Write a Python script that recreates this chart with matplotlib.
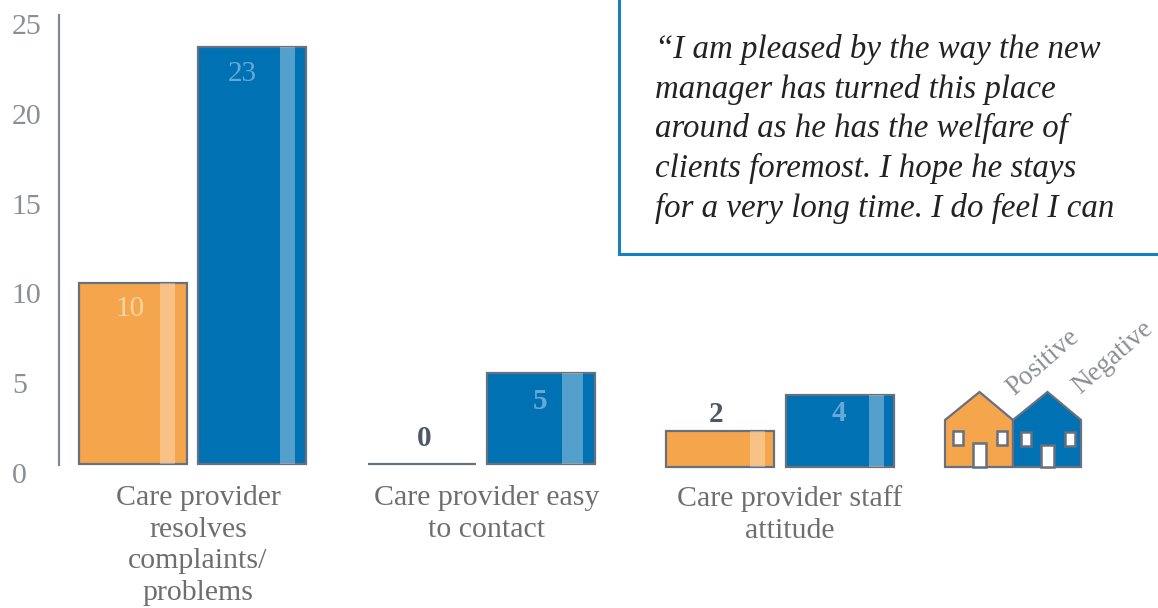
from matplotlib import pyplot as plt
from matplotlib.patches import Polygon, Rectangle

W, H = 1158, 608

categories = ["Care provider\nresolves\ncomplaints/\nproblems",
              "Care provider easy\nto contact",
              "Care provider staff\nattitude"]
positive = [10, 0, 2]
negative = [23, 5, 4]
y_ticks = [0, 5, 10, 15, 20, 25]
quote = ("\u201cI am pleased by the way the new\n"
         "manager has turned this place\n"
         "around as he has the welfare of\n"
         "clients foremost. I hope he stays\n"
         "for a very long time. I do feel I can")

ORANGE = "#F5A54B"
BLUE = "#0072B3"
EDGE = "#66707F"
GREY = "#6E6E6E"
FONT = "Liberation Serif"

group_x = [132.5, 421.5, 720]
group_gap = 119.5
bar_w = 108
base_shift = [0, 0, -0.17]
stripe_w = [15, 21, 15]
stripe_shift = [-19, -22.5, -17]
pos_offset = [-26, 26, 16]
neg_offset = [-27, -28, -19]
pos_dx = [-2, 2.5, -4]
neg_dx = [-10, -1, -1]
label_x = [198, 487, 790]


def px_axes(left, top, right, bottom):
    return plt.gcf().add_axes([left / W, 1 - bottom / H, (right - left) / W, (bottom - top) / H])


fig = plt.figure(figsize=(W / 100, H / 100), dpi=100)

# bars: x in pixels, y in data units
ax = px_axes(0, 0, W, H)
ax.set_xlim(0, W)
ax.set_ylim(-144 / 18.13, 464 / 18.13)
ax.axis("off")

for i in range(len(categories)):
    x1 = group_x[i]
    x2 = x1 + group_gap
    b = base_shift[i]
    ax.bar(x1, positive[i], bar_w, bottom=b, color=ORANGE, edgecolor=EDGE, linewidth=1.6)
    ax.bar(x2, negative[i], bar_w, bottom=b, color=BLUE, edgecolor=EDGE, linewidth=1.6)
    for x, v in ((x1, positive[i]), (x2, negative[i])):
        ax.bar(x + bar_w / 2 + stripe_shift[i], v, stripe_w[i], bottom=b, color="white",
               alpha=0.33, linewidth=0)

    pos_color = "#FBD5A6" if positive[i] >= 10 else "#4F5866"
    ax.annotate(str(positive[i]), (x1 + pos_dx[i], positive[i] + b), xytext=(0, pos_offset[i] * 0.72),
                textcoords="offset points", ha="center", va="center",
                fontsize=21, family=FONT, color=pos_color,
                fontweight="normal" if positive[i] >= 10 else "bold")
    ax.annotate(str(negative[i]), (x2 + neg_dx[i], negative[i] + b), xytext=(0, neg_offset[i] * 0.72),
                textcoords="offset points", ha="center", va="center",
                fontsize=21, family=FONT, color="#66A9D6",
                fontweight="normal" if negative[i] >= 10 else "bold")

# y axis, its labels sit on a slightly different scale than the bars
ax_t = px_axes(59, 15, 60, 473)
ax_t.set_ylim(0, 25.5)
ax_t.set_xticks([])
ax_t.set_yticks(y_ticks)
ax_t.tick_params(axis="y", length=0, pad=34, labelsize=21.5, labelcolor="#8A8F96")
for lab in ax_t.get_yticklabels():
    lab.set_family(FONT)
    lab.set_ha("left")
for s in ("top", "right", "bottom"):
    ax_t.spines[s].set_visible(False)
ax_t.spines["left"].set_color("#7F8A96")
ax_t.spines["left"].set_linewidth(1.6)
ax_t.spines["left"].set_bounds(0.45, 25.5)
ax_t.patch.set_alpha(0)

# everything else in pixel coordinates
ov = px_axes(0, 0, W, H)
ov.set_xlim(0, W)
ov.set_ylim(H, 0)
ov.axis("off")

for x, label in zip(label_x, categories):
    ov.text(x, 485, label, ha="center", va="top", fontsize=21.5, family=FONT,
            color=GREY, linespacing=1.285)

ov.plot([619, 619, W], [0, 254, 254], color="#1A80BD", lw=2.2, solid_joinstyle="miter")
ov.text(655, 34, quote, ha="left", va="top", fontsize=23.7, family=FONT, style="italic",
        color="#222222", linespacing=1.36)


def house(x0, fill, win_top, door_top, win_l, win_r, door):
    x1 = x0 + 68
    ov.add_patch(Polygon([(x0, 467), (x0, 420), (x0 + 34.5, 392), (x1, 420), (x1, 467)],
                         closed=True, facecolor=fill, edgecolor=EDGE, lw=1.6))
    for wx in (win_l, win_r):
        ov.add_patch(Rectangle((wx, win_top), 10, 13.5, facecolor="white", edgecolor=EDGE, lw=1.8))
    ov.add_patch(Rectangle((door, door_top), 12.5, 467 - door_top, facecolor="white",
                           edgecolor=EDGE, lw=1.8))


house(945, ORANGE, 431, 443, 953, 997, 973)
house(1013, BLUE, 432, 445, 1021, 1065, 1041)
ov.text(1018, 401, "Positive", rotation=41, rotation_mode="anchor", ha="left", va="bottom",
        fontsize=19.5, family=FONT, color="#8A8F96")
ov.text(1084, 399, "Negative", rotation=41, rotation_mode="anchor", ha="left", va="bottom",
        fontsize=19.5, family=FONT, color="#8A8F96")

fig.savefig("out.png", dpi=100)
